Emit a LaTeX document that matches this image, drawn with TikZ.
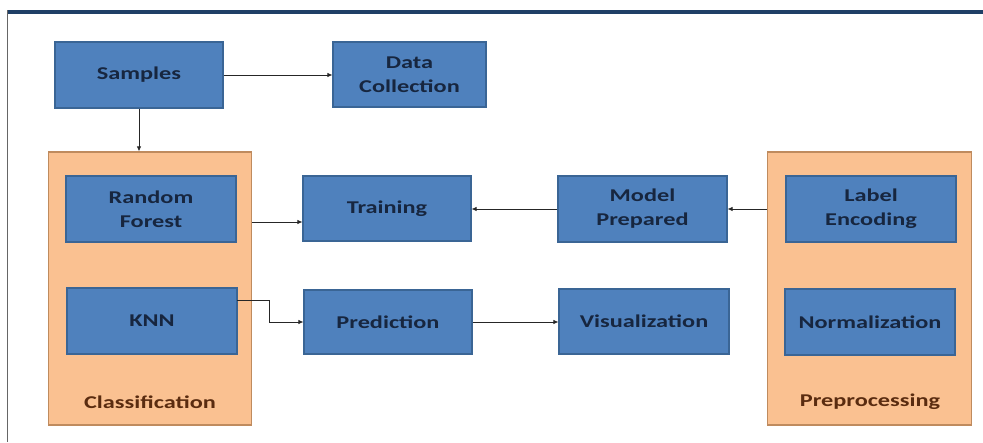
\documentclass[tikz,border=0pt]{standalone}
\usepackage{fontspec}
\setmainfont{Carlito}[FakeStretch=1.35]
\usetikzlibrary{arrows.meta,positioning}
\definecolor{boxfill}{HTML}{4F81BD}
\definecolor{boxline}{HTML}{3A6595}
\definecolor{boxtext}{HTML}{17263F}
\definecolor{grpfill}{HTML}{FAC191}
\definecolor{grpline}{HTML}{BF8B5E}
\definecolor{grptext}{HTML}{5A2C10}
\definecolor{barnavy}{HTML}{1F3F66}
\tikzset{
  stepbox/.style={draw=boxline, line width=1.1pt, fill=boxfill, text=boxtext,
    font=\bfseries\fontsize{18}{24}\selectfont, align=center,
    inner sep=0pt, minimum width=#1, minimum height=66pt},
  stepbox/.default=170pt,
  groupbox/.style={draw=grpline, line width=1.3pt, fill=grpfill,
    inner sep=0pt, minimum width=203pt, minimum height=273pt},
  grouplabel/.style={text=grptext, font=\bfseries\fontsize{18}{24}\selectfont},
  arr/.style={draw=black!85, line width=0.8pt, -{Latex[length=5pt,width=4.5pt]}}
}
\begin{document}
\begin{tikzpicture}[x=1pt,y=-1pt]
\useasboundingbox (0,0) rectangle (983,442);
\fill[white] (0,0) rectangle (983,442);
% frame: navy top rule and thin left edge
\fill[barnavy] (7,10) rectangle (983,13.5);
\draw[black!60, line width=1.2pt] (7.5,10) -- (7.5,442);

% group containers
\node[groupbox] (cls) at (150,288.5) {};
\node[groupbox, minimum width=204pt] (pre) at (869.5,288.5) {};
\node[grouplabel] (clslbl) at (150,402) {Classification};
\node[grouplabel] (prelbl) at (870,402) {Preprocessing};

% process boxes
\node[stepbox=168pt] (smp) at (139,75) {Samples};
\node[stepbox=153pt, minimum height=65pt] (dat) at (409.5,74.5) {Data\\Collection};
\node[stepbox] (rf) at (151,209) {Random\\Forest};
\node[stepbox] (knn) at (152,321) {KNN};
\node[stepbox=168pt, minimum height=65pt] (trn) at (387,208.5) {Training};
\node[stepbox=168pt, minimum height=64pt] (prd) at (388,322) {Prediction};
\node[stepbox=169pt] (mdl) at (642.5,209) {Model\\Prepared};
\node[stepbox, minimum height=65pt] (vis) at (644,321.5) {Visualization};
\node[stepbox] (lbl) at (871,209) {Label\\Encoding};
\node[stepbox] (nrm) at (870,322) {Normalization};

% connector helpers
\coordinate (rfy) at (0,222);
\coordinate (knno) at (237,300);
\coordinate (kbend) at (269,322);

% connectors
\draw[arr] (smp.east) -- (smp.east -| dat.west);
\draw[arr] (smp.south) -- (smp.south |- cls.north);
\draw[arr] (cls.east |- rfy) -- (trn.west |- rfy);
\draw[arr] (knno) -| (kbend) -- (prd.west);
\draw[arr] (pre.west |- mdl.east) -- (mdl.east);
\draw[arr] (mdl.west) -- (mdl.west -| trn.east);
\draw[arr] (prd.east) -- (prd.east -| vis.west);
\end{tikzpicture}
\end{document}
